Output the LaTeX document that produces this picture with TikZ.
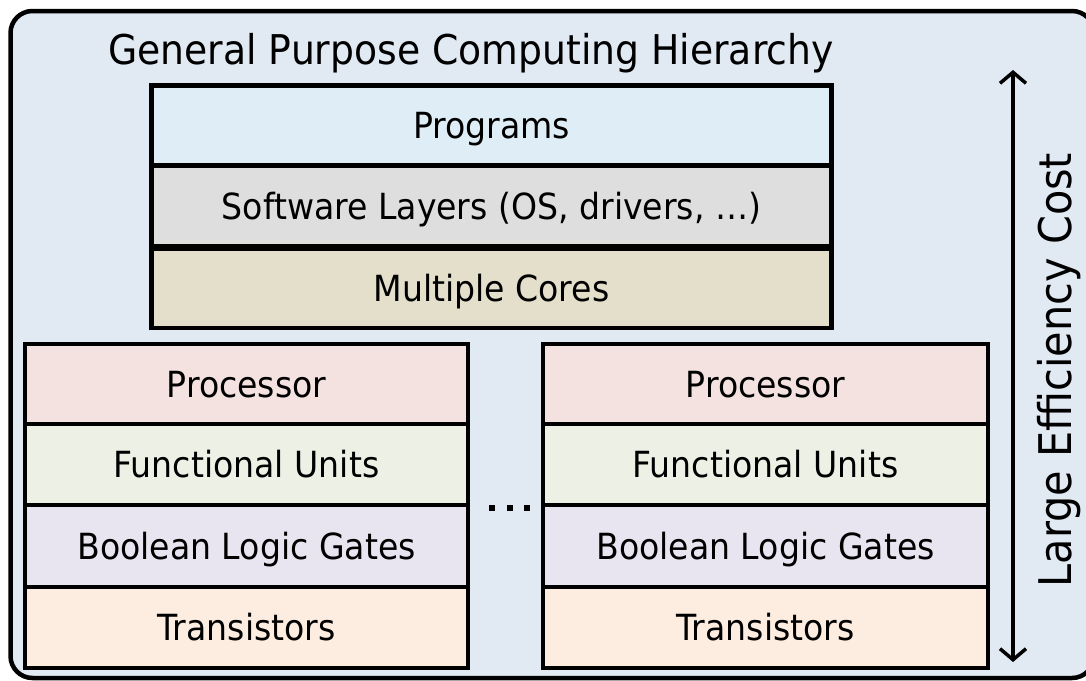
\documentclass[tikz,border=0pt]{standalone}
\usepackage{fontspec}
\setmainfont{DejaVu Sans}[FakeStretch=0.92]
\usetikzlibrary{arrows.meta}

\definecolor{panelbg}{HTML}{E1E9F3}
\definecolor{progc}{HTML}{DFEEF6}
\definecolor{softc}{HTML}{DEDEDE}
\definecolor{corec}{HTML}{E3DFCA}
\definecolor{procc}{HTML}{F3E2E0}
\definecolor{funcc}{HTML}{EDF1E5}
\definecolor{boolc}{HTML}{E8E4F0}
\definecolor{tranc}{HTML}{FDEDE1}

\tikzset{
  layer/.style={draw=black, line width=4.5pt, inner sep=0pt,
    text height=26pt, text depth=0pt,
    font=\fontsize{36}{40}\selectfont},
  topbox/.style={layer, minimum width=680pt},
  leftbox/.style={layer, minimum width=443pt},
  rightbox/.style={layer, minimum width=445pt},
  dotsq/.style={fill=black, draw=none, minimum size=6pt, inner sep=0pt},
  barb/.tip={Straight Barb[length=11pt,width=26pt,line width=3.5pt]},
}

\begin{document}
\begin{tikzpicture}[x=1pt,y=-1pt]
  \useasboundingbox (0,0) rectangle (1086,680);
  % outer panel
  \draw[line width=4.5pt, rounded corners=22pt, fill=panelbg]
    (10.5,11) rectangle (1094,678);

  % title
  \node[font=\fontsize{41}{46}\selectfont, anchor=base] (title) at (471,64)
    {General Purpose Computing Hierarchy};

  % shared software stack
  \node[topbox, fill=progc, minimum height=80pt] (prog) at (491.5,125.5) {Programs};
  \node[topbox, fill=softc, minimum height=80pt] (soft) at (491.5,206) {Software Layers (OS, drivers, …)};
  \node[topbox, fill=corec, minimum height=79pt] (cores) at (491.5,288.5) {Multiple Cores};

  % first core stack
  \node[leftbox, fill=procc, minimum height=80pt] (procA) at (246.5,384) {Processor};
  \node[leftbox, fill=funcc, minimum height=81pt] (funcA) at (246.5,464.5) {Functional Units};
  \node[leftbox, fill=boolc, minimum height=82pt] (boolA) at (246.5,546) {Boolean Logic Gates};
  \node[leftbox, fill=tranc, minimum height=81pt] (tranA) at (246.5,627.5) {Transistors};

  % last core stack
  \node[rightbox, fill=procc, minimum height=80pt] (procB) at (765.5,384) {Processor};
  \node[rightbox, fill=funcc, minimum height=81pt] (funcB) at (765.5,464.5) {Functional Units};
  \node[rightbox, fill=boolc, minimum height=82pt] (boolB) at (765.5,546) {Boolean Logic Gates};
  \node[rightbox, fill=tranc, minimum height=81pt] (tranB) at (765.5,627.5) {Transistors};

  % ellipsis between the stacks
  \node[dotsq] (dot1) at (492,508) {};
  \node[dotsq] (dot2) at (509.5,508) {};
  \node[dotsq] (dot3) at (527,508) {};

  % cost axis
  \coordinate (costtop) at (1013,70);
  \coordinate (costbot) at (1013,662);
  \draw[line width=3.5pt, barb-barb] (costtop) -- (costbot);
  \node[font=\fontsize{45}{50}\selectfont, rotate=90] (costlabel) at (1059,370)
    {Large Efficiency Cost};
\end{tikzpicture}
\end{document}
